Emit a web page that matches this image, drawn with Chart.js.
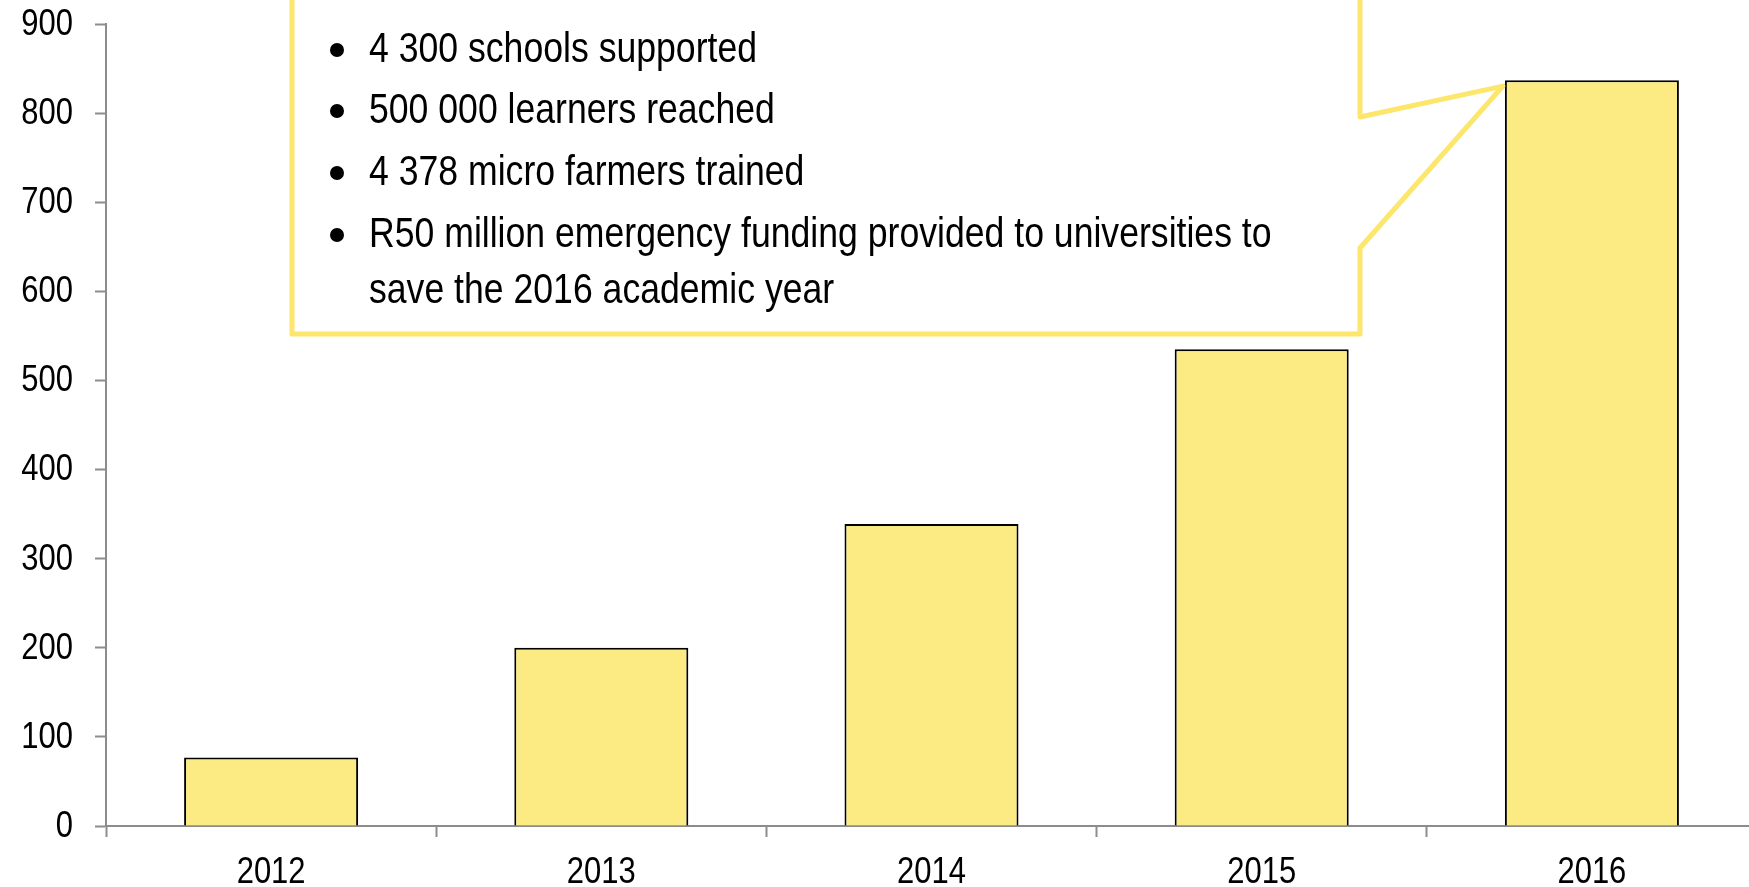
<!DOCTYPE html>
<html>
<head>
<meta charset="utf-8">
<script src="https://cdn.jsdelivr.net/npm/chart.js@4.4.1/dist/chart.umd.min.js"></script>
<style>
  html, body { margin: 0; padding: 0; background: #fff; overflow: hidden; }
  #chart-wrap { position: relative; width: 1758px; height: 887px; }
</style>
</head>
<body>
<div id="chart-wrap"><canvas id="FundStats"></canvas></div>
<script>
//
//
// Chart Data
var years = ['2012', '2013', '2014', '2015', '2016'];
var amounts = [77, 200, 339, 535, 837];
var y_max = 900;
var y_step = 100;

//
//
// Callout Text
var callout_lines = [
  { bullet: true,  text: '4 300 schools supported' },
  { bullet: true,  text: '500 000 learners reached' },
  { bullet: true,  text: '4 378 micro farmers trained' },
  { bullet: true,  text: 'R50 million emergency funding provided to universities to' },
  { bullet: false, text: 'save the 2016 academic year' }
];

var font_family = '"Liberation Sans", Arial, sans-serif';
var axis_grey = '#8c8c8c';
var callout_yellow = '#fce66b';
var label_squeeze = 0.86; // fake a condensed face

//
//
// Draw narrowed text at a point
function drawNarrowText(ctx, text, x, y, squeeze) {
  ctx.save();
  ctx.translate(x, y);
  ctx.scale(squeeze, 1);
  ctx.fillText(text, 0, 0);
  ctx.restore();
}

//
//
// Axis Labels (condensed), placed from the chart's own scales
var axisLabelPlugin = {
  id: 'axisLabels',
  afterDraw: function(chart) {
    var ctx = chart.ctx;
    var x_scale = chart.scales.x;
    var y_scale = chart.scales.y;

    ctx.save();
    ctx.fillStyle = '#000';
    ctx.font = '36px ' + font_family;

    // Y Ticks
    ctx.textAlign = 'right';
    ctx.textBaseline = 'middle';
    y_scale.ticks.forEach(function(tick) {
      drawNarrowText(ctx, String(tick.value), 73, y_scale.getPixelForValue(tick.value) + 1, label_squeeze);
    });

    // X Categories
    ctx.textAlign = 'center';
    ctx.textBaseline = 'alphabetic';
    chart.data.labels.forEach(function(label, i) {
      drawNarrowText(ctx, label, x_scale.getPixelForValue(i), 883, label_squeeze);
    });
    ctx.restore();
  }
};

//
//
// Callout Box Pointing at the Last Bar
var calloutPlugin = {
  id: 'callout',
  afterDraw: function(chart) {
    var ctx = chart.ctx;
    var last_bar = chart.getDatasetMeta(0).data[amounts.length - 1];
    var tip_x = last_bar.x - last_bar.width / 2 - 2;
    var tip_y = last_bar.y + 6;

    var left = 292, right = 1360, top = -10, bottom = 334;

    ctx.save();
    ctx.beginPath();
    ctx.moveTo(left, top);
    ctx.lineTo(right, top);
    ctx.lineTo(right, 117);
    ctx.lineTo(tip_x, tip_y);
    ctx.lineTo(right, 248);
    ctx.lineTo(right, bottom);
    ctx.lineTo(left, bottom);
    ctx.closePath();
    ctx.fillStyle = '#fff';
    ctx.fill();
    ctx.lineWidth = 5;
    ctx.lineJoin = 'round';
    ctx.strokeStyle = callout_yellow;
    ctx.stroke();

    // Bullet Lines
    var baselines = [62, 123, 185, 247, 303];
    var text_x = 369;
    ctx.fillStyle = '#000';
    ctx.font = '42px ' + font_family;
    ctx.textBaseline = 'alphabetic';
    ctx.textAlign = 'left';
    var squeeze = 388 / ctx.measureText(callout_lines[0].text).width;
    for (var i = 0; i < callout_lines.length; i++) {
      var line = callout_lines[i];
      if (line.bullet) {
        ctx.beginPath();
        ctx.arc(337, baselines[i] - 12, 7, 0, Math.PI * 2);
        ctx.fill();
      }
      drawNarrowText(ctx, line.text, text_x, baselines[i], squeeze);
    }
    ctx.restore();
  }
};

//
//
// Draw Chart
var fund_stats = document.getElementById('FundStats').getContext('2d');

new Chart(fund_stats, {
  type: 'bar',
  data: {
    labels: years,
    datasets: [{
      data: amounts,
      backgroundColor: '#fcea82',
      borderColor: '#000',
      borderWidth: 2,
      borderSkipped: 'start',
      barPercentage: 0.527,
      categoryPercentage: 1
    }]
  },
  options: {
    responsive: true,
    maintainAspectRatio: false,
    animation: false,
    layout: {
      padding: { top: 24, right: 1, left: 0, bottom: 0 }
    },
    plugins: {
      legend: { display: false },
      tooltip: { enabled: false }
    },
    scales: {
      x: {
        afterFit: function(scale) { scale.height = 61; },
        grid: {
          offset: true,
          drawOnChartArea: false,
          drawTicks: true,
          tickLength: 11,
          tickWidth: 2,
          tickColor: axis_grey
        },
        border: { display: true, color: axis_grey, width: 2 },
        ticks: { display: false }
      },
      y: {
        min: 0,
        max: y_max,
        afterFit: function(scale) {
          scale.width = 106;
          scale.paddingTop = 0;
          scale.paddingBottom = 0;
        },
        grid: {
          drawOnChartArea: false,
          drawTicks: true,
          tickLength: 11,
          tickWidth: 2,
          tickColor: axis_grey
        },
        border: { display: true, color: axis_grey, width: 2 },
        ticks: { stepSize: y_step, display: false }
      }
    }
  },
  plugins: [axisLabelPlugin, calloutPlugin]
});
</script>
</body>
</html>
